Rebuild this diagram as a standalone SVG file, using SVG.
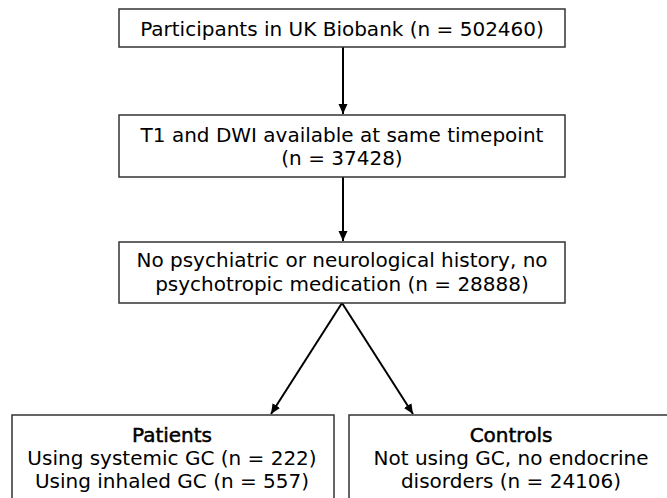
<svg xmlns="http://www.w3.org/2000/svg" width="667" height="498" viewBox="0 0 667 498">
<style>
.box{fill:#fff;stroke:#333;stroke-width:1.5}
.t{font-family:"DejaVu Sans",Verdana,sans-serif;font-size:20px;fill:#000;text-anchor:middle}
.h{stroke:#000;stroke-width:0.5}
.c{stroke:#000;stroke-width:2;fill:none;marker-end:url(#ah)}
</style>
<defs>
<marker id="ah" viewBox="0 0 10 10" refX="10" refY="5" markerWidth="10" markerHeight="10" markerUnits="userSpaceOnUse" orient="auto">
<path d="M0,0.5 L10,5 L0,9.5 z" fill="#000"/>
</marker>
</defs>
<rect width="667" height="498" fill="#fff"/>
<g id="connectors">
<line class="c" x1="343" y1="47" x2="343" y2="114"/>
<line class="c" x1="343" y1="177" x2="343" y2="241"/>
<line class="c" x1="342" y1="303" x2="271" y2="414"/>
<line class="c" x1="342" y1="303" x2="413" y2="414"/>
</g>
<g id="n1">
<rect class="box" x="119" y="9" width="446" height="38"/>
<text class="t" x="342" y="36">Participants in UK Biobank (n = 502460)</text>
</g>
<g id="n2">
<rect class="box" x="119" y="115" width="446" height="62"/>
<text class="t" x="342" y="142">T1 and DWI available at same timepoint</text>
<text class="t" x="342" y="165">(n = 37428)</text>
</g>
<g id="n3">
<rect class="box" x="119" y="242" width="446" height="61"/>
<text class="t" x="342" y="267">No psychiatric or neurological history, no</text>
<text class="t" x="342" y="291">psychotropic medication (n = 28888)</text>
</g>
<g id="n4">
<rect class="box" x="12" y="415" width="322" height="100"/>
<text class="t h" x="172" y="442">Patients</text>
<text class="t" x="172" y="465">Using systemic GC (n = 222)</text>
<text class="t" x="172" y="488">Using inhaled GC (n = 557)</text>
</g>
<g id="n5">
<rect class="box" x="349" y="415" width="324" height="100"/>
<text class="t h" x="511" y="442">Controls</text>
<text class="t" x="511" y="465">Not using GC, no endocrine</text>
<text class="t" x="511" y="488">disorders (n = 24106)</text>
</g>
</svg>
